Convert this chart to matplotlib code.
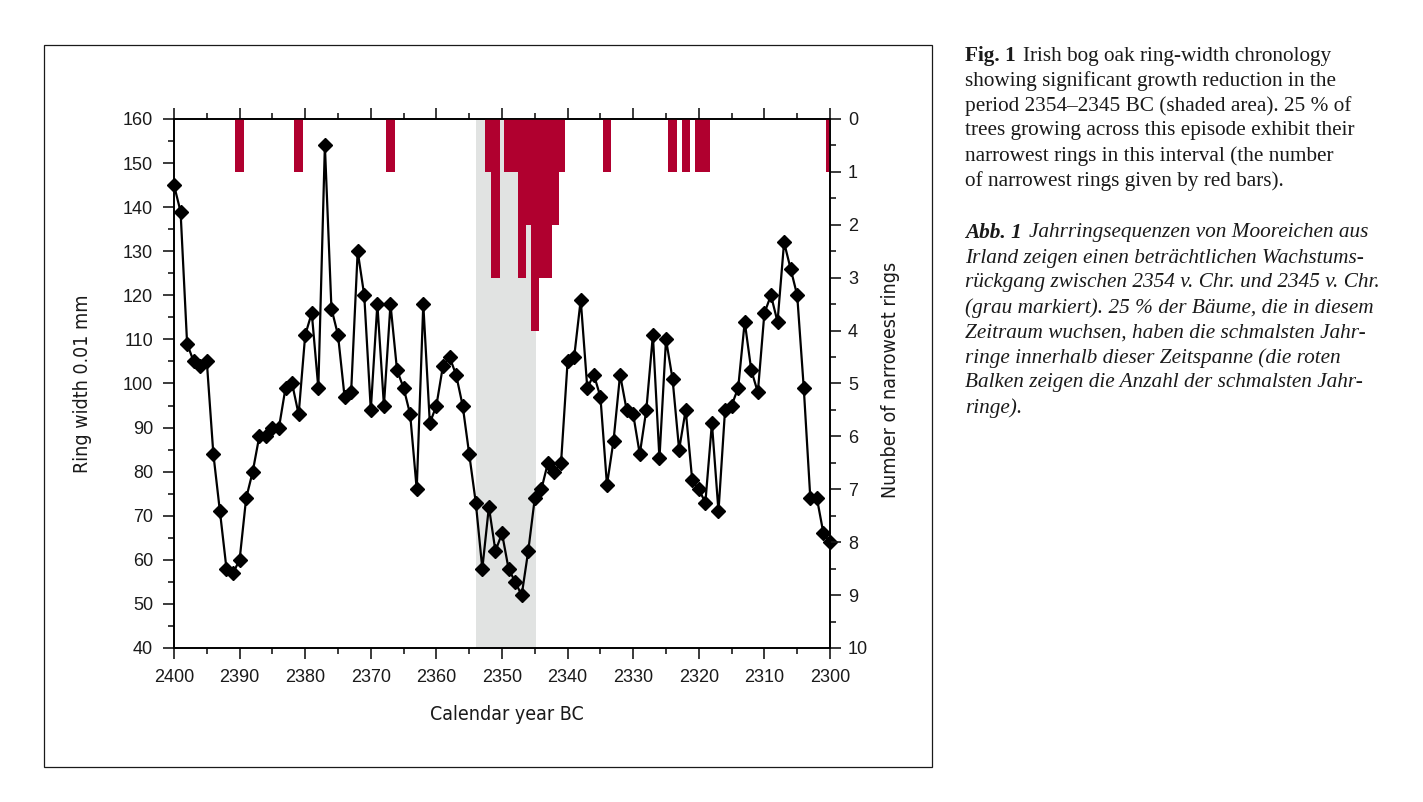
import matplotlib
matplotlib.use('Agg')
import matplotlib.pyplot as plt
import matplotlib.patches as patches
from matplotlib.ticker import MultipleLocator

# Ring width (0.01 mm), one value per year, 2400 BC -> 2300 BC
years = list(range(2400, 2299, -1))
ring_width = [145, 139, 109, 105, 104, 105, 84, 71, 58, 57,
              60, 74, 80, 88, 88, 90, 90, 99, 100, 93,
              111, 116, 99, 154, 117, 111, 97, 98, 130, 120,
              94, 118, 95, 118, 103, 99, 93, 76, 118, 91,
              95, 104, 106, 102, 95, 84, 73, 58, 72, 62,
              66, 58, 55, 52, 62, 74, 76, 82, 80, 82,
              105, 106, 119, 99, 102, 97, 77, 87, 102, 94,
              93, 84, 94, 111, 83, 110, 101, 85, 94, 78,
              76, 73, 91, 71, 94, 95, 99, 114, 103, 98,
              116, 120, 114, 132, 126, 120, 99, 74, 74, 66,
              64]

# Number of narrowest rings per year (red bars)
bar_years = [2390, 2381, 2367, 2352, 2351, 2349, 2348, 2347, 2346, 2345,
             2344, 2343, 2342, 2341, 2334, 2324, 2322, 2320, 2319, 2300]
bar_counts = [1, 1, 1, 1, 3, 1, 1, 3, 2, 4,
              3, 3, 2, 1, 1, 1, 1, 1, 1, 1]

shade_start, shade_end = 2354, 2344.8

RED = '#b0002f'
GREY = '#e1e3e2'
INK = '#1a1a1a'

fig = plt.figure(figsize=(14.23, 8.02), dpi=100)
ax = fig.add_axes([174 / 1423, 1 - 648 / 802, 656 / 1423, 529 / 802])
ax2 = ax.twinx()

# shaded episode
ax.axvspan(shade_start, shade_end, color=GREY, lw=0, zorder=0)

# ring-width chronology
ax.plot(years, ring_width, color='black', lw=1.6, marker='D', ms=7.5,
        mfc='black', mec='black', clip_on=False, zorder=3)

ax.set_xlim(2400, 2300)
ax.set_ylim(40, 160)
ax.xaxis.set_major_locator(MultipleLocator(10))
ax.xaxis.set_minor_locator(MultipleLocator(5))
ax.yaxis.set_major_locator(MultipleLocator(10))
ax.yaxis.set_minor_locator(MultipleLocator(5))

# red bars hanging from the top
ax2.bar(bar_years, bar_counts, width=1.27, color=RED, lw=0, zorder=2)
ax2.set_ylim(10, 0)
ax2.yaxis.set_major_locator(MultipleLocator(1))
ax2.yaxis.set_minor_locator(MultipleLocator(0.5))

for a in (ax, ax2):
    for sp in a.spines.values():
        sp.set_linewidth(1.2)
    a.tick_params(which='major', direction='out', length=8, width=1.2,
                  colors=INK, labelsize=13)
    a.tick_params(which='minor', direction='out', length=4.5, width=1.2,
                  colors=INK)
ax.tick_params(which='both', top=True, labeltop=False)
ax.tick_params(axis='y', pad=7)
ax.tick_params(axis='x', pad=7)
ax2.tick_params(axis='y', pad=5)
for lab in ax.get_xticklabels() + ax.get_yticklabels() + ax2.get_yticklabels():
    lab.set_fontfamily('Liberation Sans')

label_font = dict(family='DejaVu Sans', stretch='condensed', size=14,
                  color=INK)
fig.text(82 / 1423, 1 - 384 / 802, 'Ring width 0.01 mm', rotation=90,
         ha='center', va='center', **label_font)
fig.text(890 / 1423, 1 - 380 / 802, 'Number of narrowest rings', rotation=90,
         ha='center', va='center', **label_font)
fig.text(507 / 1423, 1 - 715 / 802, 'Calendar year BC',
         ha='center', va='center', **label_font)

# frame around the chart
fig.patches.append(patches.Rectangle((44 / 1423, 1 - 767 / 802),
                                     888 / 1423, 722 / 802,
                                     transform=fig.transFigure, fill=False,
                                     lw=0.9, edgecolor=INK))

# caption
renderer = fig.canvas.get_renderer()
cap_size = 15.3
cap_family = 'Liberation Serif'


def cap_line(y_px, parts, x_px=965):
    x = x_px / 1423
    for txt, weight, style in parts:
        t = fig.text(x, 1 - y_px / 802, txt, ha='left', va='center',
                     family=cap_family, size=cap_size, weight=weight,
                     style=style, color=INK)
        bb = t.get_window_extent(renderer)
        x += (bb.width + 7) / 1423


en_lines = ['showing significant growth reduction in the',
            'period 2354\u20132345 BC (shaded area). 25 % of',
            'trees growing across this episode exhibit their',
            'narrowest rings in this interval (the number',
            'of narrowest rings given by red bars).']
de_lines = ['Irland zeigen einen betr\u00e4chtlichen Wachstums-',
            'r\u00fcckgang zwischen 2354 v. Chr. und 2345 v. Chr.',
            '(grau markiert). 25 % der B\u00e4ume, die in diesem',
            'Zeitraum wuchsen, haben die schmalsten Jahr-',
            'ringe innerhalb dieser Zeitspanne (die roten',
            'Balken zeigen die Anzahl der schmalsten Jahr-',
            'ringe).']

cap_line(56, [('Fig. 1', 'bold', 'normal'),
              ('Irish bog oak ring-width chronology', 'normal', 'normal')])
for i, s in enumerate(en_lines):
    cap_line(81 + 25 * i, [(s, 'normal', 'normal')])

cap_line(233, [('Abb. 1', 'bold', 'italic'),
               ('Jahrringsequenzen von Mooreichen aus', 'normal', 'italic')])
for i, s in enumerate(de_lines):
    cap_line(258 + 25 * i, [(s, 'normal', 'italic')])

fig.savefig('out.png', dpi=100, facecolor='white')
